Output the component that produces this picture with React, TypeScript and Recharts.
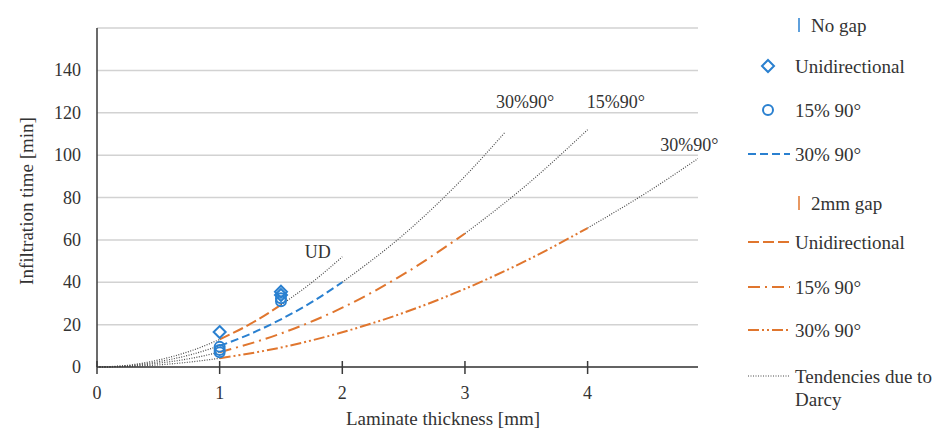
import React from 'react';
import {
  ComposedChart,
  Line,
  Scatter,
  XAxis,
  YAxis,
  CartesianGrid,
  ReferenceDot,
} from 'recharts';

// measured points (no gap)
const noGapUD = [
  { x: 1, y: 16.5 },
  { x: 1.5, y: 35.5 },
  { x: 1.5, y: 34 },
];
const noGap15 = [
  { x: 1, y: 9.5 },
  { x: 1, y: 8 },
  { x: 1, y: 7 },
  { x: 1.5, y: 32.5 },
  { x: 1.5, y: 31 },
];
const noGap30 = [
  { x: 1, y: 10 },
  { x: 1.25, y: 15.6 },
  { x: 1.5, y: 22.5 },
  { x: 1.75, y: 30.6 },
  { x: 2, y: 40 },
];

// 2mm gap curves
const gapUD = [
  { x: 1, y: 13 },
  { x: 1.25, y: 20.3 },
  { x: 1.5, y: 29.3 },
];
const gap15 = [
  { x: 1, y: 7 },
  { x: 1.5, y: 15.8 },
  { x: 2, y: 28 },
  { x: 2.5, y: 43.8 },
  { x: 3, y: 63 },
];
const gap30 = [
  { x: 1, y: 4.1 },
  { x: 1.5, y: 9.2 },
  { x: 2, y: 16.4 },
  { x: 2.5, y: 25.6 },
  { x: 3, y: 36.9 },
  { x: 3.5, y: 50.2 },
  { x: 4, y: 65.6 },
];

// Darcy tendencies (dotted)
const darcyHeadUD = [
  { x: 0, y: 0 }, { x: 0.25, y: 0.8 }, { x: 0.5, y: 3.3 }, { x: 0.75, y: 7.3 }, { x: 1, y: 13 },
];
const darcyHead30 = [
  { x: 0, y: 0 }, { x: 0.25, y: 0.6 }, { x: 0.5, y: 2.5 }, { x: 0.75, y: 5.6 }, { x: 1, y: 10 },
];
const darcyHead15 = [
  { x: 0, y: 0 }, { x: 0.25, y: 0.4 }, { x: 0.5, y: 1.8 }, { x: 0.75, y: 3.9 }, { x: 1, y: 7 },
];
const darcyHeadGap30 = [
  { x: 0, y: 0 }, { x: 0.25, y: 0.3 }, { x: 0.5, y: 1 }, { x: 0.75, y: 2.3 }, { x: 1, y: 4.1 },
];
const darcyTailUD = [
  { x: 1.5, y: 29.3 }, { x: 1.75, y: 39.8 }, { x: 2, y: 52 },
];
const darcyTail30 = [
  { x: 2, y: 40 }, { x: 2.5, y: 62.5 }, { x: 3, y: 90 }, { x: 3.33, y: 111 },
];
const darcyTail15 = [
  { x: 3, y: 63 }, { x: 3.5, y: 85.8 }, { x: 4, y: 112 },
];
const darcyTailGap30 = [
  { x: 4, y: 65.6 }, { x: 4.5, y: 83 }, { x: 4.9, y: 98.4 },
];

const xTicks = [0, 1, 2, 3, 4];
const yTicks = [0, 20, 40, 60, 80, 100, 120, 140];

const curveLabels = [
  { x: 1.8, y: 54.3, text: 'UD' },
  { x: 3.49, y: 125, text: '30%90°' },
  { x: 4.23, y: 125, text: '15%90°' },
  { x: 4.83, y: 105, text: '30%90°' },
];

const BLUE = '#2A80D0';
const ORANGE = '#E0762E';
const GREY = '#4a4a4a';
const AXIS = '#3a3a3a';
const FONT = '"Liberation Serif", "Times New Roman", serif';

const darcyHeads = [darcyHeadUD, darcyHead30, darcyHead15, darcyHeadGap30];
const darcyTails = [darcyTailUD, darcyTail30, darcyTail15, darcyTailGap30];

// recharts hands the tick y below the axis (tickSize + tickMargin)
const XTick = (props: any) => {
  const { x, y, payload } = props;
  const axisY = y - 8;
  return (
    <g>
      <line x1={x} x2={x} y1={axisY - 6} y2={axisY + 7} stroke={AXIS} strokeWidth={1.5} />
      <text x={x} y={axisY + 26} textAnchor="middle" dominantBaseline="central" fill="#333" fontSize={18} fontFamily={FONT}>
        {payload.value}
      </text>
    </g>
  );
};

const YTick = (props: any) => {
  const { y, payload } = props;
  return (
    <text x={81} y={y} textAnchor="end" dominantBaseline="central" fill="#333" fontSize={18} fontFamily={FONT}>
      {payload.value}
    </text>
  );
};

const Diamond = (props: any) => {
  const { cx, cy } = props;
  const s = 6;
  return (
    <path
      d={`M${cx},${cy - s}L${cx + s},${cy}L${cx},${cy + s}L${cx - s},${cy}Z`}
      fill="none"
      stroke={BLUE}
      strokeWidth={2}
    />
  );
};

const Ring = (props: any) => {
  const { cx, cy } = props;
  return <circle cx={cx} cy={cy} r={5} fill="none" stroke={BLUE} strokeWidth={2} />;
};

const XTitle = () => (
  <text x={443} y={418} textAnchor="middle" dominantBaseline="central" fill="#333" fontSize={19} fontFamily={FONT}>
    Laminate thickness [mm]
  </text>
);

const YTitle = () => (
  <text
    x={26}
    y={201}
    transform="rotate(-90 26 201)"
    textAnchor="middle"
    dominantBaseline="central"
    fill="#333"
    fontSize={19}
    fontFamily={FONT}
  >
    Infiltration time [min]
  </text>
);

const CurveLabel = (text: string) => (props: any) => {
  const { viewBox } = props;
  const cx = viewBox.x + (viewBox.width || 0) / 2;
  const cy = viewBox.y + (viewBox.height || 0) / 2;
  return (
    <text x={cx} y={cy} textAnchor="middle" dominantBaseline="central" fill="#333" fontSize={18} fontFamily={FONT}>
      {text}
    </text>
  );
};

type LegendRow = {
  y: number;
  text: string[];
  kind: 'bar' | 'diamond' | 'ring' | 'line';
  color: string;
  dash?: string;
};

const legendRows: LegendRow[] = [
  { y: 25, text: ['No gap'], kind: 'bar', color: BLUE },
  { y: 66, text: ['Unidirectional'], kind: 'diamond', color: BLUE },
  { y: 110, text: ['15% 90°'], kind: 'ring', color: BLUE },
  { y: 154, text: ['30% 90°'], kind: 'line', color: BLUE, dash: '8 4' },
  { y: 203, text: ['2mm gap'], kind: 'bar', color: ORANGE },
  { y: 242, text: ['Unidirectional'], kind: 'line', color: ORANGE, dash: '11 4' },
  { y: 287, text: ['15% 90°'], kind: 'line', color: ORANGE, dash: '12 5 2 5' },
  { y: 330, text: ['30% 90°'], kind: 'line', color: ORANGE, dash: '11 3 2 3 2 3' },
  { y: 376, text: ['Tendencies due to', 'Darcy'], kind: 'line', color: GREY, dash: '1 1.5' },
];

const LegendIcon = ({ row }: { row: LegendRow }) => {
  if (row.kind === 'bar') {
    return <line x1={799} x2={799} y1={row.y - 7} y2={row.y + 7} stroke={row.color} strokeWidth={1.5} />;
  }
  if (row.kind === 'diamond') return <Diamond cx={768} cy={row.y} />;
  if (row.kind === 'ring') return <Ring cx={768} cy={row.y} />;
  return (
    <line
      x1={748}
      x2={790}
      y1={row.y}
      y2={row.y}
      stroke={row.color}
      strokeWidth={row.color === GREY ? 1.2 : 2}
      strokeDasharray={row.dash}
    />
  );
};

const ChartLegend = () => (
  <svg width={947} height={429} style={{ position: 'absolute', left: 0, top: 0, pointerEvents: 'none' }}>
    {legendRows.map((row, i) => (
      <g key={i}>
        <LegendIcon row={row} />
        {row.text.map((t, j) => (
          <text
            key={j}
            x={row.kind === 'bar' ? 811 : 795}
            y={row.y + j * 23}
            dominantBaseline="central"
            fill="#333"
            fontSize={19}
            fontFamily={FONT}
          >
            {t}
          </text>
        ))}
      </g>
    ))}
  </svg>
);

export default function App() {
  return (
    <div style={{ position: 'absolute', left: 0, top: 0, width: 947, height: 429, background: '#fff' }}>
      <ComposedChart width={947} height={429} margin={{ top: 28, right: 249, bottom: 0, left: 0 }}>
        <CartesianGrid vertical={false} stroke="#d2d2d2" strokeWidth={1.5} />
        <XAxis
          type="number"
          dataKey="x"
          domain={[0, 4.9]}
          ticks={xTicks}
          allowDataOverflow
          height={62}
          stroke={AXIS}
          strokeWidth={1.5}
          tickLine={false}
          tick={<XTick />}
          label={<XTitle />}
        />
        <YAxis
          type="number"
          domain={[0, 160]}
          ticks={yTicks}
          width={97}
          stroke={AXIS}
          strokeWidth={1.5}
          tickLine={false}
          tick={<YTick />}
          label={<YTitle />}
        />

        {darcyHeads.map((d, i) => (
          <Line
            key={`h${i}`}
            data={d}
            dataKey="y"
            type="monotone"
            stroke={GREY}
            strokeWidth={1.2}
            strokeDasharray="1 1.5"
            dot={false}
            isAnimationActive={false}
          />
        ))}
        {darcyTails.map((d, i) => (
          <Line
            key={`t${i}`}
            data={d}
            dataKey="y"
            type="monotone"
            stroke={GREY}
            strokeWidth={1.2}
            strokeDasharray="1 1.5"
            dot={false}
            isAnimationActive={false}
          />
        ))}

        <Line data={noGap30} dataKey="y" type="monotone" stroke={BLUE} strokeWidth={2} strokeDasharray="8 4" dot={false} isAnimationActive={false} />
        <Line data={gapUD} dataKey="y" type="monotone" stroke={ORANGE} strokeWidth={2} strokeDasharray="11 4" dot={false} isAnimationActive={false} />
        <Line data={gap15} dataKey="y" type="monotone" stroke={ORANGE} strokeWidth={2} strokeDasharray="12 5 2 5" dot={false} isAnimationActive={false} />
        <Line data={gap30} dataKey="y" type="monotone" stroke={ORANGE} strokeWidth={2} strokeDasharray="11 3 2 3 2 3" dot={false} isAnimationActive={false} />

        <Scatter data={noGapUD} dataKey="y" shape={<Diamond />} isAnimationActive={false} />
        <Scatter data={noGap15} dataKey="y" shape={<Ring />} isAnimationActive={false} />

        {curveLabels.map((l, i) => (
          <ReferenceDot
            key={`l${i}`}
            x={l.x}
            y={l.y}
            r={0}
            stroke="none"
            fill="none"
            ifOverflow="visible"
            label={CurveLabel(l.text)}
          />
        ))}
      </ComposedChart>
      <ChartLegend />
    </div>
  );
}
